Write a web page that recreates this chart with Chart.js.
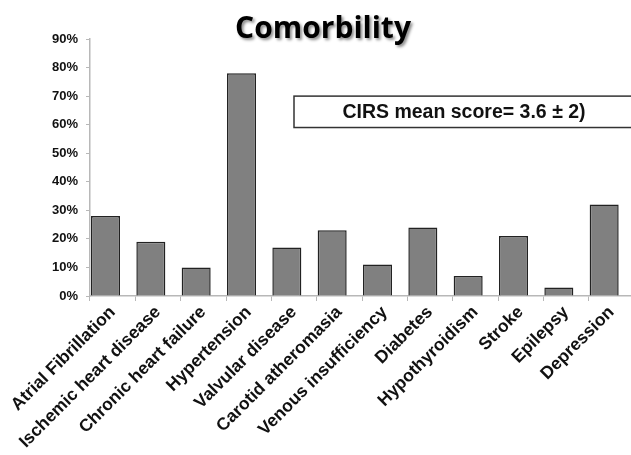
<!DOCTYPE html>
<html>
<head>
<meta charset="utf-8">
<script src="https://cdn.jsdelivr.net/npm/chart.js@4"></script>
<style>
  html, body { margin: 0; padding: 0; background: #fff; overflow: hidden; }
  #wrap { width: 634px; height: 455px; }
</style>
</head>
<body>
<div id="wrap"><canvas id="chart" width="634" height="455"></canvas></div>
<script>
const categories = [
  "Atrial Fibrillation", "Ischemic heart disease", "Chronic heart failure",
  "Hypertension", "Valvular disease", "Carotid atheromasia",
  "Venous insufficiency", "Diabetes", "Hypothyroidism", "Stroke",
  "Epilepsy", "Depression"
];
const prevalence = [28, 19, 10, 78, 17, 23, 11, 24, 7, 21, 3, 32];
const yTicks = [0, 10, 20, 30, 40, 50, 60, 70, 80, 90];
const titleText = "Comorbility";
const noteText = "CIRS mean score= 3.6 \u00b1 2)";
// note box: starts at category index 4, spans 70% .. 59%
const noteBox = { fromIndex: 4, top: 70, bottom: 59 };

const axisGrey = "#b8b8b8";
const labelFont = "'Liberation Sans', Arial, sans-serif";

// bars sit at the left of each category slot, as in the source figure
const shiftBars = {
  id: "shiftBars",
  beforeDatasetsDraw(chart) {
    const bar = chart.getDatasetMeta(0).data[0];
    const dx = chart.chartArea.left + 1 - (bar.x - bar.width / 2);
    chart.ctx.save();
    chart.ctx.translate(dx, 0);
  },
  afterDatasetsDraw(chart) {
    chart.ctx.restore();
  }
};

const extras = {
  id: "extras",
  afterDraw(chart) {
    const { ctx, scales: { x, y }, chartArea } = chart;
    // note box
    const left = x.getPixelForValue(noteBox.fromIndex);
    const top = y.getPixelForValue(noteBox.top);
    const bottom = y.getPixelForValue(noteBox.bottom);
    ctx.save();
    ctx.fillStyle = "#fff";
    ctx.strokeStyle = "#333";
    ctx.lineWidth = 1.5;
    ctx.fillRect(left, top, chartArea.right + 20 - left, bottom - top);
    ctx.strokeRect(left, top, chartArea.right + 20 - left, bottom - top);
    ctx.fillStyle = "#111";
    ctx.font = "bold 19.5px " + labelFont;
    ctx.textAlign = "center";
    ctx.textBaseline = "middle";
    ctx.fillText(noteText, (left + chartArea.right) / 2, (top + bottom) / 2 + 1);
    ctx.restore();

    // title with soft shadow
    ctx.save();
    ctx.font = "bold 30px 'Open Sans', sans-serif";
    ctx.textAlign = "center";
    ctx.textBaseline = "alphabetic";
    ctx.shadowColor = "rgba(0,0,0,0.45)";
    ctx.shadowOffsetX = 2;
    ctx.shadowOffsetY = 2;
    ctx.shadowBlur = 3;
    ctx.fillStyle = "#000";
    ctx.fillText(titleText, chart.width / 2 + 6, 38);
    ctx.restore();
  }
};

new Chart(document.getElementById("chart"), {
  type: "bar",
  data: {
    labels: categories,
    datasets: [{
      data: prevalence,
      backgroundColor: "#808080",
      borderColor: "#222",
      borderWidth: 1.5,
      barPercentage: 0.64,
      categoryPercentage: 1.0
    }]
  },
  options: {
    responsive: false,
    animation: false,
    layout: { padding: { top: 39, left: 0, right: 0, bottom: 0 } },
    plugins: {
      legend: { display: false },
      title: { display: false },
      tooltip: { enabled: false }
    },
    scales: {
      x: {
        offset: true,
        grid: {
          display: true,
          offset: true,
          drawOnChartArea: false,
          color: axisGrey,
          tickLength: 5
        },
        border: { color: axisGrey, width: 1.5 },
        ticks: {
          autoSkip: false,
          minRotation: 45,
          maxRotation: 45,
          padding: 1,
          color: "#111",
          font: { family: labelFont, size: 17.5, weight: "bold" }
        },
        afterFit(s) {
          s.height = 455 - 296;
          s.paddingLeft = 0;
          s.paddingRight = 0;
        }
      },
      y: {
        min: 0,
        max: 90,
        afterBuildTicks(s) {
          s.ticks = yTicks.map(v => ({ value: v }));
        },
        grid: {
          display: true,
          drawOnChartArea: false,
          color: axisGrey,
          tickLength: 4
        },
        border: { color: axisGrey, width: 1.5 },
        ticks: {
          padding: 8,
          color: "#111",
          font: { family: labelFont, size: 13, weight: "bold" },
          callback: v => v + "%"
        },
        afterFit(s) {
          s.width = 90;
        }
      }
    }
  },
  plugins: [shiftBars, extras]
});
</script>
</body>
</html>
